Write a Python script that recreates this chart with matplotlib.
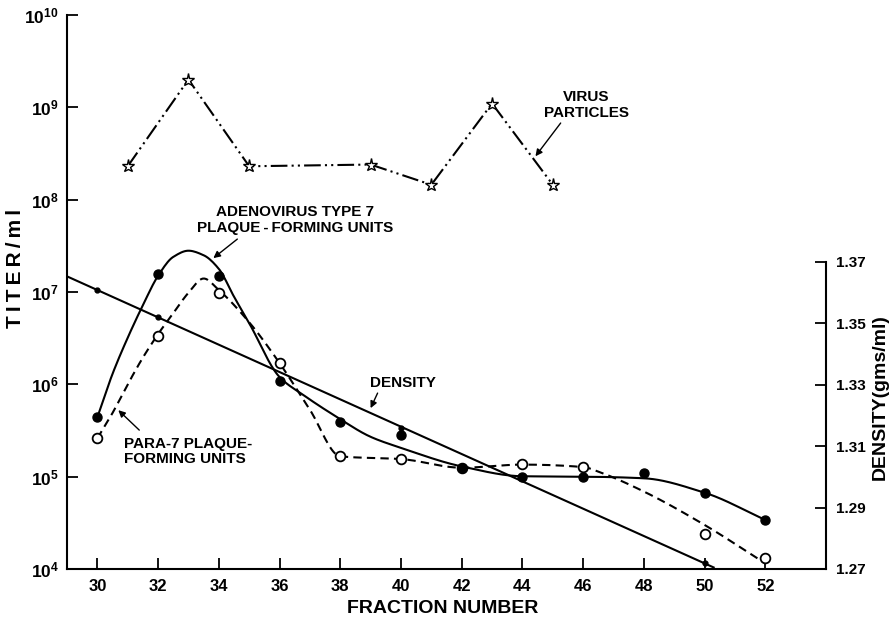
import numpy as np
import matplotlib
matplotlib.use("Agg")
import matplotlib.pyplot as plt

plt.rcParams['font.family'] = ['Liberation Sans', 'DejaVu Sans']
plt.rcParams['font.weight'] = 'bold'
plt.rcParams['mathtext.fontset'] = 'custom'
plt.rcParams['mathtext.rm'] = 'Liberation Sans:bold'
plt.rcParams['mathtext.default'] = 'rm'

# measured points
fractions = [30, 32, 34, 36, 38, 40, 42, 44, 46, 48, 50, 52]
adeno_pfu = [4.4e5, 1.55e7, 1.5e7, 1.08e6, 3.9e5, 2.8e5, 1.25e5, 1.0e5, 1.0e5, 1.1e5, 6.7e4, 3.4e4]

para7_fractions = [30, 32, 34, 36, 38, 40, 42, 44, 46, 50, 52]
para7_pfu = [2.6e5, 3.3e6, 9.7e6, 1.7e6, 1.66e5, 1.55e5, 1.25e5, 1.36e5, 1.27e5, 2.4e4, 1.3e4]

virus_fractions = [31, 33, 35, 39, 41, 43, 45]
virus_particles = [2.3e8, 2.0e9, 2.3e8, 2.4e8, 1.45e8, 1.1e9, 1.45e8]

density_fractions = [30, 32, 40, 50]
density = [1.361, 1.352, 1.316, 1.272]

# hand drawn fit curves, knots
adeno_curve_x = [30, 30.5, 31, 31.5, 32, 32.5, 33, 33.5, 34, 34.5, 35, 36, 36.8, 37.9, 39, 40, 42, 44, 46, 48, 50, 52]
adeno_curve_y = [4.4e5, 1.3e6, 3.2e6, 7.2e6, 1.5e7, 2.4e7, 2.8e7, 2.5e7, 1.78e7, 8.9e6, 4.6e6, 1.2e6,
                 7.6e5, 4.4e5, 2.7e5, 2.05e5, 1.29e5, 1.01e5, 1.0e5, 9.6e4, 6.7e4, 3.4e4]

para7_curve_x = [30, 30.5, 31, 31.5, 32, 32.5, 33, 33.5, 34, 35, 36, 37, 38, 40, 42, 44, 46, 46.6, 48, 50, 52]
para7_curve_y = [2.6e5, 4.9e5, 1.0e6, 1.95e6, 3.5e6, 5.9e6, 9.8e6, 1.4e7, 1.05e7, 4.7e6, 1.7e6,
                 5.3e5, 1.66e5, 1.55e5, 1.25e5, 1.35e5, 1.27e5, 1.1e5, 6.9e4, 3.0e4, 1.15e4]

x_ticks = [30, 32, 34, 36, 38, 40, 42, 44, 46, 48, 50, 52]
titer_ticks = [1e4, 1e5, 1e6, 1e7, 1e8, 1e9, 1e10]
titer_labels = [r'$10^{4}$', r'$10^{5}$', r'$10^{6}$', r'$10^{7}$', r'$10^{8}$', r'$10^{9}$', r'$10^{10}$']
density_ticks = [1.27, 1.29, 1.31, 1.33, 1.35, 1.37]


def pchip(x, y, xs):
    """monotone cubic through the knots, used to draw the smooth fit curves"""
    x = np.asarray(x, float)
    y = np.asarray(y, float)
    h = np.diff(x)
    d = np.diff(y) / h
    m = np.zeros_like(y)
    for k in range(1, len(x) - 1):
        if d[k - 1] * d[k] > 0:
            w1 = 2 * h[k] + h[k - 1]
            w2 = h[k] + 2 * h[k - 1]
            m[k] = (w1 + w2) / (w1 / d[k - 1] + w2 / d[k])
    m[0] = d[0]
    m[-1] = d[-1]
    i = np.clip(np.searchsorted(x, xs) - 1, 0, len(h) - 1)
    t = (xs - x[i]) / h[i]
    h00 = 2 * t ** 3 - 3 * t ** 2 + 1
    h10 = t ** 3 - 2 * t ** 2 + t
    h01 = -2 * t ** 3 + 3 * t ** 2
    h11 = t ** 3 - t ** 2
    return h00 * y[i] + h10 * h[i] * m[i] + h01 * y[i + 1] + h11 * h[i] * m[i + 1]


def smooth_log(x, y):
    xs = np.linspace(x[0], x[-1], 400)
    return xs, 10 ** pchip(x, np.log10(y), xs)


fig = plt.figure(figsize=(8.9, 6.2), dpi=100)
ax = fig.add_axes([0.0753, 0.0823, 0.8528, 0.8935])
ax.set_yscale('log')
ax.set_xlim(29, 54)
ax.set_ylim(1e4, 1e10)

# virus particles
ax.plot(virus_fractions, virus_particles, color='k', lw=1.5, ls=(0, (8, 2, 1, 2, 1, 2)),
        marker='*', ms=9.5, mfc='white', mec='k', mew=1, zorder=3)

# para-7 (dashed, open circles)
xs, ys = smooth_log(para7_curve_x, para7_curve_y)
ax.plot(xs, ys, color='k', lw=1.5, ls=(0, (4, 2.5)), zorder=2)
ax.plot(para7_fractions, para7_pfu, ls='none', marker='o', ms=7, mfc='white', mec='k', mew=1.3, zorder=3)

# adenovirus type 7 (solid, filled circles)
xs, ys = smooth_log(adeno_curve_x, adeno_curve_y)
ax.plot(xs, ys, color='k', lw=1.5, zorder=2)
ax.plot(fractions, adeno_pfu, ls='none', marker='o', ms=6.5, color='k', zorder=4)

ax.set_xticks(x_ticks)
ax.set_xticklabels([str(v) for v in x_ticks])
ax.set_yticks(titer_ticks)
ax.set_yticklabels(titer_labels)
ax.yaxis.set_minor_locator(matplotlib.ticker.NullLocator())
ax.tick_params(direction='in', length=8, width=1.3, labelsize=12, pad=7)
ax.tick_params(axis='y', labelsize=12.5, pad=6)
ax.spines['top'].set_visible(False)
ax.spines['right'].set_visible(False)
ax.spines['left'].set_linewidth(1.5)
ax.spines['bottom'].set_linewidth(1.5)

# density on the right scale
ax2 = ax.twinx()
ax2.set_ylim(1.27, 1.27 + 0.1 * 554 / 307)
fit = np.polyfit(density_fractions, density, 1)
dx = np.array([29, 50.3])
ax2.plot(dx, np.polyval(fit, dx), color='k', lw=1.5)
ax2.plot(density_fractions, density, ls='none', marker='o', ms=3.5, color='k')
ax2.set_yticks(density_ticks)
ax2.set_yticklabels(['%.2f' % v for v in density_ticks])
ax2.tick_params(direction='in', length=8, width=1.3, labelsize=11, pad=7)
for s in ['top', 'left', 'bottom']:
    ax2.spines[s].set_visible(False)
ax2.spines['right'].set_bounds(1.27, 1.37)
ax2.spines['right'].set_linewidth(1.5)

# axis titles
ax.text(-0.0685, 0.543, 'T\u2009I\u2009T\u2009E\u2009R\u2009/\u2009m\u2009l', transform=ax.transAxes,
        rotation=90, ha='center', va='center', fontsize=15)
ax.text(1.072, 0.31, 'DENSITY(gms/ml)', transform=ax.transAxes, rotation=90,
        ha='center', va='center', fontsize=14)
ax.text(0.495, -0.072, 'FRACTION NUMBER', transform=ax.transAxes,
        ha='center', va='center', fontsize=14)

# labels with arrows
arrow = dict(arrowstyle='-|>', lw=1, color='k', mutation_scale=10, shrinkA=0, shrinkB=0)
ax.text(46.11, 10 ** 9.025, 'VIRUS\nPARTICLES', ha='center', va='center', fontsize=11, linespacing=1.1)
ax.annotate('', xy=(44.43, 10 ** 8.47), xytext=(45.26, 10 ** 8.83), arrowprops=arrow)

ax.text(36.52, 10 ** 7.78, 'ADENOVIRUS TYPE 7\nPLAQUE\u2009-\u2009FORMING UNITS', ha='center', va='center',
        fontsize=11, linespacing=1.1)
ax.annotate('', xy=(33.82, 10 ** 7.367), xytext=(34.61, 10 ** 7.573), arrowprops=arrow)

ax.text(30.89, 10 ** 5.276, 'PARA-7 PLAQUE-\nFORMING UNITS', ha='left', va='center',
        fontsize=11, linespacing=1.1)
ax.annotate('', xy=(30.69, 10 ** 5.72), xytext=(31.38, 10 ** 5.504), arrowprops=arrow)

ax.text(40.08, 10 ** 6.013, 'DENSITY', ha='center', va='center', fontsize=11)
ax.annotate('', xy=(39.0, 10 ** 5.742), xytext=(39.23, 10 ** 5.905), arrowprops=arrow)

fig.savefig('out.png', dpi=100)
